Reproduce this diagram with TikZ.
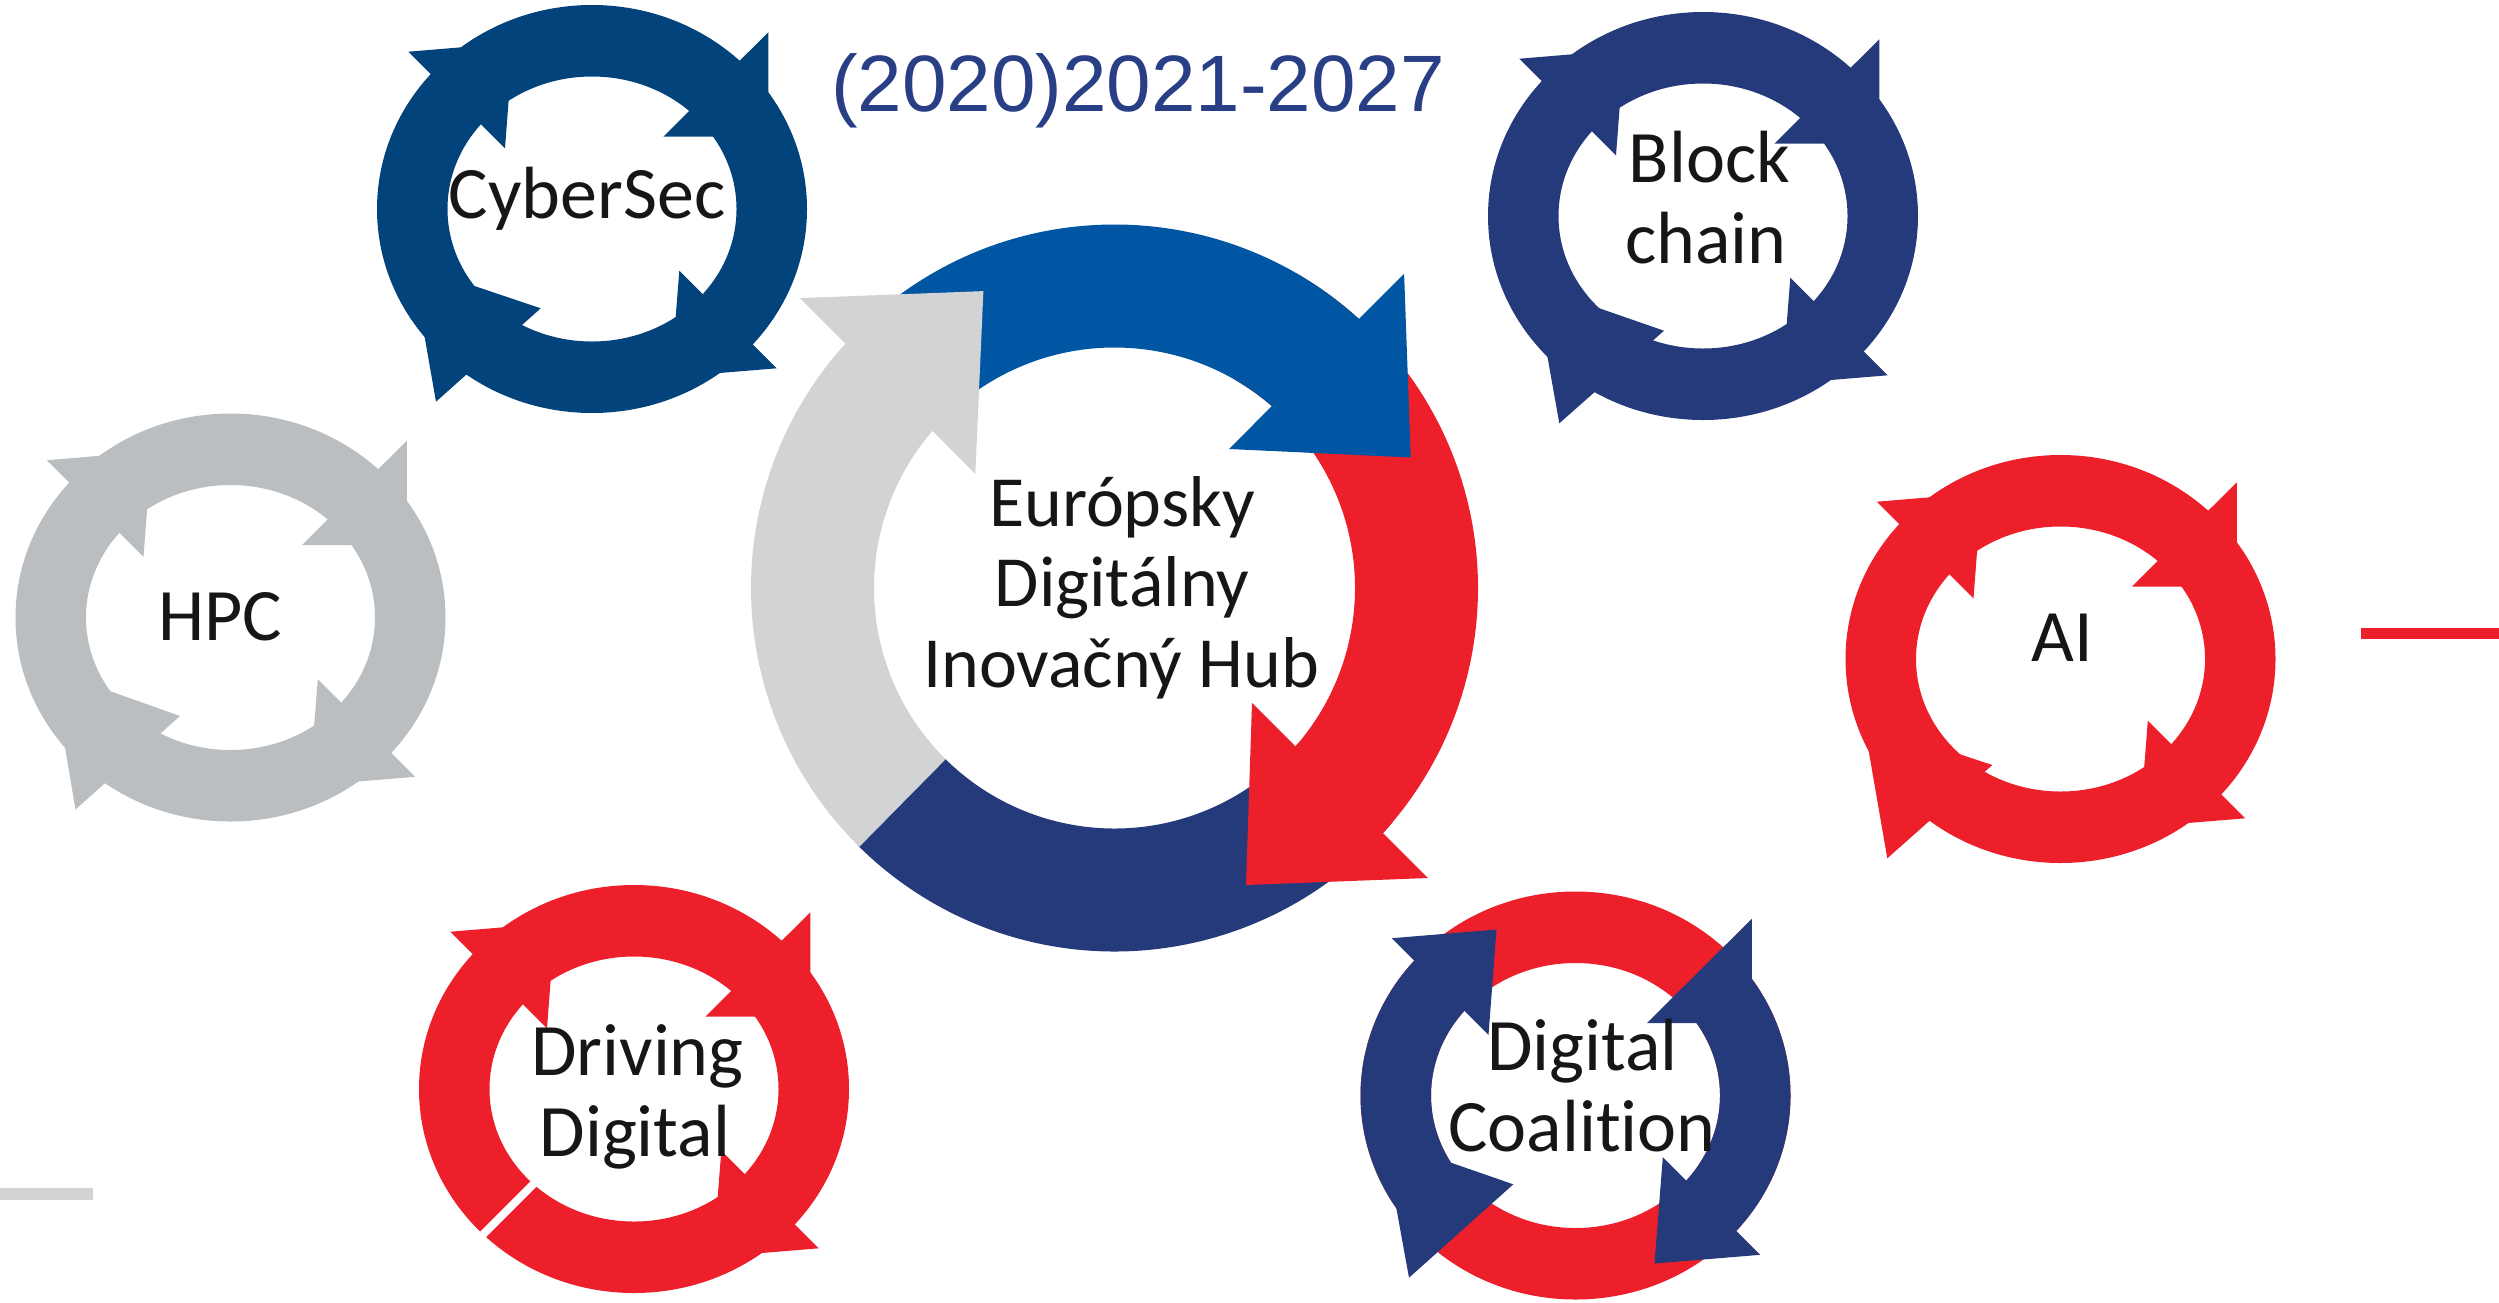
\documentclass[tikz,border=0pt]{standalone}
\usepackage{fontspec}
\newfontfamily\lblfont{Carlito}[Ligatures={NoCommon,NoContextual}]
\newfontfamily\yrfont{Liberation Sans}
\definecolor{cyberblue}{RGB}{3,67,124}
\definecolor{hubblue}{RGB}{0,86,163}
\definecolor{navy}{RGB}{37,58,122}
\definecolor{eured}{RGB}{237,31,42}
\definecolor{lightgray}{RGB}{209,211,212}
\definecolor{hpcgray}{RGB}{187,190,193}
\definecolor{yearblue}{RGB}{40,62,133}
\definecolor{txt}{RGB}{22,22,22}
% small cyclic ring: name, centre x, centre y, colour (annulus + TL, TR, BR heads)
\newcommand\ringbody[4]{%
  \coordinate (#1) at (#2,#3);
  \begin{scope}[shift={(#2,#3)}]
    \fill[#4,even odd rule] (0,0) ellipse[x radius=215,y radius=204]
                            (0,0) ellipse[x radius=144.5,y radius=132.5];
    \fill[#4] (-183.7,-157.3) -- (-87,-60.7) -- (-79,-166) -- cycle;
    \fill[#4] (176.3,-176.7) -- (71.3,-72.3) -- (176.3,-72.3) -- cycle;
    \fill[#4] (184.7,159.3) -- (87.3,61.7) -- (79,168) -- cycle;
  \end{scope}}
\begin{document}
\begin{tikzpicture}[x=1pt,y=-1pt,
  lbl/.style={font=\lblfont\fontsize{74}{80}\selectfont, text=txt, inner sep=0pt, anchor=base},
  hubtxt/.style={font=\lblfont\fontsize{72}{80}\selectfont, text=txt, inner sep=0pt, anchor=base}]
\useasboundingbox (0,0) rectangle (2499,1302);

% ---------- central hub ring ----------
\coordinate (hub) at (1114.5,588);
\begin{scope}[shift={(1114.5,588)}]
  % navy bottom arc
  \fill[navy] (40:363.5) arc[start angle=40,end angle=135,radius=363.5]
     -- (135:240.5) arc[start angle=135,end angle=40,radius=240.5] -- cycle;
  % red right arrow
  \fill[eured] (300:363.5) arc[start angle=300,end angle=405,radius=363.5]
     -- (405:240.5) arc[start angle=405,end angle=300,radius=240.5] -- cycle;
  \fill[eured] (137.5,115) -- (313.5,290) -- (131.5,297) -- cycle;
  % blue top arrow
  \fill[hubblue] (232:363.5) arc[start angle=232,end angle=315,radius=363.5]
     -- (315:240.5) arc[start angle=315,end angle=232,radius=240.5] -- cycle;
  \fill[hubblue] (289.6,-314.3) -- (114.5,-139) -- (296.2,-130.5) -- cycle;
  % grey left arrow
  \fill[lightgray] (134.6:363.5) arc[start angle=134.6,end angle=228,radius=363.5]
     -- (228:240.5) arc[start angle=228,end angle=134.6,radius=240.5] -- cycle;
  \fill[lightgray] (-314.4,-289.9) -- (-139.2,-114.1) -- (-131.1,-296.9) -- cycle;
\end{scope}
\node[hubtxt] (hubA) at (1122,526.5) {Európsky};
\node[hubtxt] (hubB) at (1122,606.5) {Digitálny};
\node[hubtxt] (hubC) at (1121,687.5) {Inovačný Hub};

% ---------- CyberSec ----------
\ringbody{cyber}{592}{209}{cyberblue}
\fill[cyberblue,shift={(592,209)}] (-156,192.7) -- (-51.3,99.3) -- (-180,56) -- cycle;
\node[lbl] (cyberL) at (587,218.3) {CyberSec};

% ---------- HPC ----------
\ringbody{hpc}{230.5}{617.5}{hpcgray}
\fill[hpcgray,shift={(230.5,617.5)}] (-155,192) -- (-50.5,98.5) -- (-178.5,53) -- cycle;
\node[lbl] (hpcL) at (220.5,640) {HPC};

% ---------- Block chain ----------
\ringbody{block}{1703}{216}{navy}
\fill[navy,shift={(1703,216)}] (-143.7,207.3) -- (-39,114.7) -- (-168.2,69.9) -- cycle;
\node[lbl] (blockA) at (1709.5,182.7) {Block};
\node[lbl] (blockB) at (1706,263.3) {chain};

% ---------- AI ----------
\ringbody{ai}{2060.5}{659}{eured}
\fill[eured,shift={(2060.5,659)}] (-173.2,199.3) -- (-68.2,106) -- (-196.8,63.4) -- cycle;
\node[lbl] (aiL) at (2062,661.7) {AI};

% ---------- Driving Digital ----------
\ringbody{drive}{634}{1089}{eured}
\draw[white,line width=8,shift={(634,1089)}] (-172,166.5) -- (-80,74.5);
\node[lbl] (driveA) at (637.5,1075) {Driving};
\node[lbl] (driveB) at (635,1156.7) {Digital};

% ---------- Digital Coalition ----------
\coordinate (coal) at (1575.5,1095.5);
\begin{scope}[shift={(1575.5,1095.5)}]
  \fill[eured,even odd rule] (0,0) ellipse[x radius=215,y radius=204]
                             (0,0) ellipse[x radius=144.5,y radius=132.5];
  % left navy arrow
  \fill[navy] (-166.5,182.2) -- (-62.2,88.8) -- (-191.7,43.9) -- cycle;
  \fill[navy] (135:215 and 204) arc[start angle=135,end angle=228,x radius=215,y radius=204]
     -- (228:144.5 and 132.5) arc[start angle=228,end angle=135,x radius=144.5,y radius=132.5] -- cycle;
  \fill[navy] (-183.7,-157.3) -- (-87,-60.7) -- (-79,-166) -- cycle;
  % right navy arrow
  \fill[navy] (176.3,-176.7) -- (71.3,-72.3) -- (176.3,-72.3) -- cycle;
  \fill[navy] (-43:215 and 204) arc[start angle=-43,end angle=48,x radius=215,y radius=204]
     -- (48:144.5 and 132.5) arc[start angle=48,end angle=-43,x radius=144.5,y radius=132.5] -- cycle;
  \fill[navy] (184.7,159.3) -- (87.3,61.7) -- (79,168) -- cycle;
\end{scope}
\node[lbl] (coalA) at (1582.5,1070.7) {Digital};
\node[lbl] (coalB) at (1582,1151.7) {Coalition};

% ---------- title ----------
\node[font=\yrfont\fontsize{80}{90}\selectfont, text=yearblue, inner sep=0pt, anchor=base west]
  (title) at (831,111.5) {(2020)2021-2027};

% ---------- stray line pieces at the edges ----------
\fill[eured] (2361,627.7) rectangle (2499,639.3);
\fill[lightgray] (0,1187.7) rectangle (92.7,1200);
\end{tikzpicture}
\end{document}
